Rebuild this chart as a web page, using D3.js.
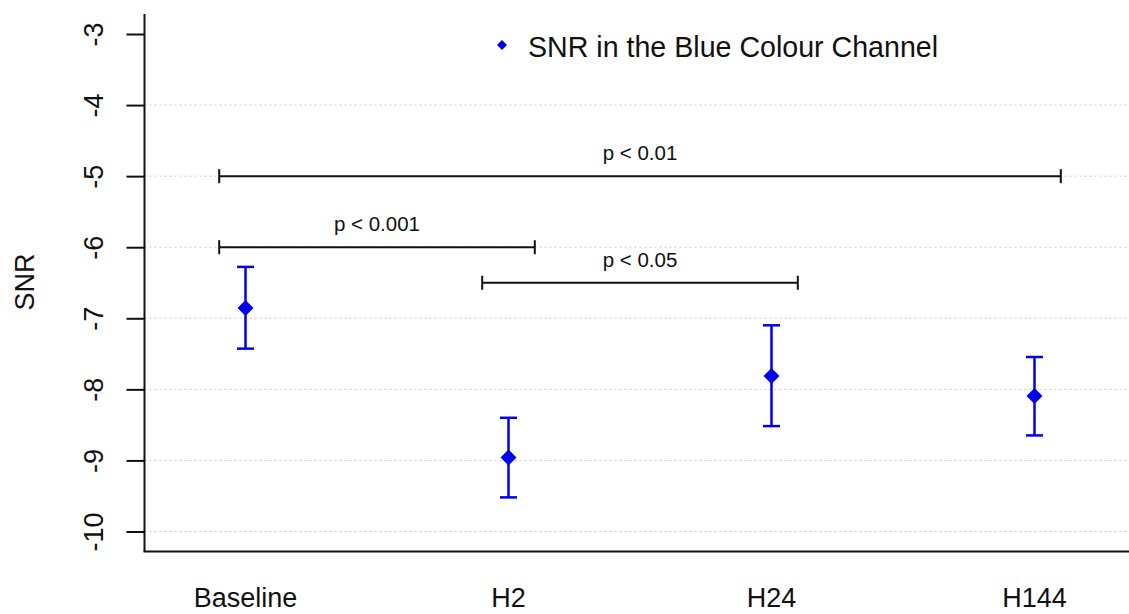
<!DOCTYPE html>
<html>
<head>
<meta charset="utf-8">
<script src="https://cdn.jsdelivr.net/npm/d3@7"></script>
<style>
  body { margin: 0; background: #fff; }
  svg { font-family: "Liberation Sans", Arial, sans-serif; }
</style>
</head>
<body>
<svg id="chart" width="1129" height="614"></svg>
<script>
// Data
const categories = ["Baseline", "H2", "H24", "H144"];
const means = [-6.855, -8.96, -7.813, -8.094];
const upper = [-6.277, -8.40, -7.099, -7.545];
const lower = [-7.427, -9.52, -8.517, -8.648];
const yTicks = [-3, -4, -5, -6, -7, -8, -9, -10];
const gridTicks = [-4, -5, -6, -7, -8, -9, -10];

// significance brackets: from category index, to category index, height, label
const brackets = [
    { from: 0, to: 3, y: -5, label: "p < 0.01" },
    { from: 0, to: 1, y: -6, label: "p < 0.001" },
    { from: 1, to: 2, y: -6.5, label: "p < 0.05" }
];

const svg = d3.select("#chart"),
    width = 1129,
    height = 614,
    axisX = 144.5,
    axisBottom = 551.5;

const x = d3.scaleLinear().domain([0, 3]).range([245.5, 1034.5]);
const y = d3.scaleLinear().domain([-10, -3]).range([531.5, 34]);
const off = 0.1;  // bracket end offset from the category centre

// dotted grid lines
svg.append("g")
    .selectAll("line")
    .data(gridTicks)
    .enter().append("line")
    .attr("x1", axisX)
    .attr("x2", width)
    .attr("y1", d => y(d))
    .attr("y2", d => y(d))
    .attr("stroke", "#c8c8c8")
    .attr("stroke-width", 1)
    .attr("stroke-dasharray", "2,3");

// Y axis
const yAxis = svg.append("g")
    .attr("transform", `translate(${axisX},0)`)
    .call(d3.axisLeft(y).tickValues(yTicks).tickSize(18).tickSizeOuter(0).tickFormat(d => String(d)));

yAxis.select(".domain").remove();
yAxis.selectAll(".tick line").attr("stroke", "#111").attr("stroke-width", 2);
yAxis.selectAll(".tick text")
    .attr("x", null)
    .attr("dy", null)
    .attr("transform", "translate(-51,0) rotate(-90)")
    .attr("text-anchor", "middle")
    .attr("dominant-baseline", "central")
    .style("font-size", "27px")
    .attr("fill", "#111");

// axis lines
svg.append("line")
    .attr("x1", axisX).attr("x2", axisX)
    .attr("y1", 14).attr("y2", axisBottom)
    .attr("stroke", "#111").attr("stroke-width", 2);
svg.append("line")
    .attr("x1", axisX - 1).attr("x2", width)
    .attr("y1", axisBottom).attr("y2", axisBottom)
    .attr("stroke", "#111").attr("stroke-width", 2);

// X category labels
svg.append("g")
    .selectAll("text")
    .data(categories)
    .enter().append("text")
    .attr("x", (d, i) => x(i))
    .attr("y", 607)
    .attr("text-anchor", "middle")
    .style("font-size", "27px")
    .attr("fill", "#111")
    .text(d => d);

// Y axis title
svg.append("text")
    .attr("transform", "translate(25,282) rotate(-90)")
    .attr("text-anchor", "middle")
    .attr("dominant-baseline", "central")
    .style("font-size", "27px")
    .attr("fill", "#111")
    .text("SNR");

// significance brackets
const br = svg.append("g").selectAll("g")
    .data(brackets)
    .enter().append("g");

br.append("line")
    .attr("x1", d => x(d.from - off))
    .attr("x2", d => x(d.to + off))
    .attr("y1", d => y(d.y))
    .attr("y2", d => y(d.y))
    .attr("stroke", "#111").attr("stroke-width", 2);

br.each(function (d) {
    const g = d3.select(this);
    [d.from - off, d.to + off].forEach(v => {
        g.append("line")
            .attr("x1", x(v)).attr("x2", x(v))
            .attr("y1", y(d.y) - 7).attr("y2", y(d.y) + 7)
            .attr("stroke", "#111").attr("stroke-width", 2);
    });
});

br.append("text")
    .attr("x", d => (x(d.from - off) + x(d.to + off)) / 2)
    .attr("y", d => y(d.y) - 16)
    .attr("text-anchor", "middle")
    .style("font-size", "20.5px")
    .attr("fill", "#111")
    .text(d => d.label);

// error bars
const blue = "#0000ee";
const eb = svg.append("g").selectAll("g")
    .data(categories)
    .enter().append("g");

eb.append("line")
    .attr("x1", (d, i) => x(i)).attr("x2", (d, i) => x(i))
    .attr("y1", (d, i) => y(upper[i])).attr("y2", (d, i) => y(lower[i]))
    .attr("stroke", blue).attr("stroke-width", 2.5);

[upper, lower].forEach(arr => {
    eb.append("line")
        .attr("x1", (d, i) => x(i) - 8.5).attr("x2", (d, i) => x(i) + 8.5)
        .attr("y1", (d, i) => y(arr[i])).attr("y2", (d, i) => y(arr[i]))
        .attr("stroke", blue).attr("stroke-width", 2.5);
});

// mean diamonds
const diamond = d3.symbol().type(d3.symbolSquare).size(128);
eb.append("path")
    .attr("d", diamond)
    .attr("transform", (d, i) => `translate(${x(i)},${y(means[i])}) rotate(45)`)
    .attr("fill", blue);

// legend
svg.append("path")
    .attr("d", d3.symbol().type(d3.symbolSquare).size(50))
    .attr("transform", "translate(502,45) rotate(45)")
    .attr("fill", blue);
svg.append("text")
    .attr("x", 528)
    .attr("y", 57)
    .style("font-size", "28.6px")
    .attr("fill", "#111")
    .text("SNR in the Blue Colour Channel");
</script>
</body>
</html>
